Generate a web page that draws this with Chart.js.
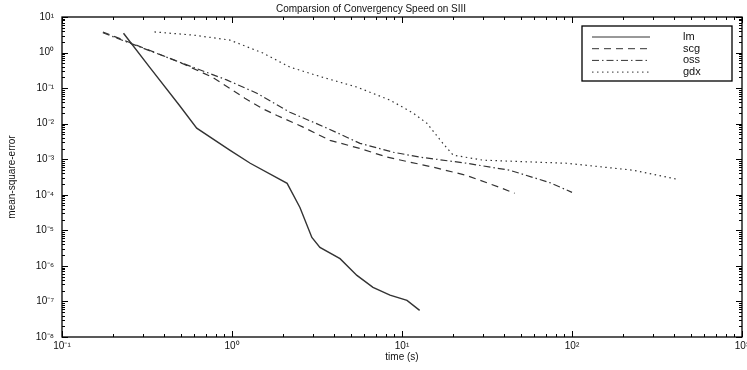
<!DOCTYPE html>
<html>
<head>
<meta charset="utf-8">
<script src="https://cdn.jsdelivr.net/npm/chart.js@4"></script>
<style>
  html, body { margin: 0; padding: 0; background: #fff; }
</style>
</head>
<body>
<canvas id="myChart" width="747" height="370"></canvas>
<script>
// значения (лог-лог)
let lmTime = [0.23, 0.33, 0.49, 0.62, 0.97, 1.28, 2.11, 2.51, 2.95, 3.29, 4.32, 5.43, 6.75, 8.5, 10.7, 12.7];
let lmMse = [3.5, 0.37, 0.033, 0.0075, 1.8e-3, 7.7e-4, 2.1e-4, 4.4e-5, 6.3e-6, 3.3e-6, 1.6e-6, 5.4e-7, 2.5e-7, 1.5e-7, 1.07e-7, 5.6e-8];

let scgTime = [0.174, 0.49, 0.77, 1.19, 1.5, 1.84, 2.62, 3.77, 5.66, 8.2, 15.2, 24, 37.7, 46];
let scgMse = [3.8, 0.54, 0.2, 0.052, 0.027, 0.017, 0.008, 3.4e-3, 2.0e-3, 1.14e-3, 6.0e-4, 3.5e-4, 1.6e-4, 1.1e-4];

let ossTime = [0.174, 0.49, 0.93, 1.4, 2.19, 3.62, 5.66, 8.9, 12.8, 24, 43, 74, 100];
let ossMse = [3.6, 0.54, 0.17, 0.072, 0.021, 7.5e-3, 2.8e-3, 1.57e-3, 1.14e-3, 7.7e-4, 4.9e-4, 2.2e-4, 1.17e-4];

let gdxTime = [0.35, 0.59, 0.97, 1.52, 2.19, 3.43, 5.43, 8.5, 11.6, 14, 17.4, 20, 30, 93, 230, 420];
let gdxMse = [3.8, 3.1, 2.25, 0.97, 0.39, 0.2, 0.107, 0.046, 0.02, 0.0103, 2.8e-3, 1.3e-3, 9.4e-4, 7.7e-4, 4.9e-4, 2.7e-4];

let xTicks = [0.1, 1, 10, 100, 1000];
let yTicks = [1e-8, 1e-7, 1e-6, 1e-5, 1e-4, 1e-3, 1e-2, 1e-1, 1, 10];

let names = ['lm', 'scg', 'oss', 'gdx'];
let dashes = [[], [7, 5], [7, 3, 1.5, 3], [1.5, 3.5]];

let sup = { '-': '⁻', '0': '⁰', '1': '¹', '2': '²', '3': '³', '4': '⁴', '5': '⁵', '6': '⁶', '7': '⁷', '8': '⁸', '9': '⁹' };
let powLabel = (v) => {
    let e = String(Math.round(Math.log10(v)));
    return '10' + e.split('').map(c => sup[c]).join('');
};

let toPoints = (xs, ys) => xs.map((x, i) => ({ x: x, y: ys[i] }));

let series = [
    toPoints(lmTime, lmMse),
    toPoints(scgTime, scgMse),
    toPoints(ossTime, ossMse),
    toPoints(gdxTime, gdxMse)
];

const FONT = 'Liberation Sans, Arial, Helvetica, sans-serif';
const INK = '#333';

// тики внутрь рамки со всех 4 сторон, как в матлабе
let insideTicks = {
    id: 'insideTicks',
    afterDatasetsDraw(chart) {
        let ctx = chart.ctx;
        let a = chart.chartArea;
        let xs = chart.scales.x, ys = chart.scales.y;
        ctx.save();
        ctx.strokeStyle = '#000';
        ctx.lineWidth = 1;
        ctx.beginPath();
        for (let k = -1; k <= 2; k++) {
            for (let m = 1; m <= 10; m++) {
                let v = m * Math.pow(10, k);
                if (m === 10 && k !== 2) continue;
                let px = Math.round(xs.getPixelForValue(v)) + 0.5;
                let len = (m === 1 || m === 10) ? 6 : 3;
                ctx.moveTo(px, a.bottom); ctx.lineTo(px, a.bottom - len);
                ctx.moveTo(px, a.top); ctx.lineTo(px, a.top + len);
            }
        }
        for (let k = -8; k <= 0; k++) {
            for (let m = 1; m <= 10; m++) {
                let v = m * Math.pow(10, k);
                if (m === 10 && k !== 0) continue;
                let py = Math.round(ys.getPixelForValue(v)) + 0.5;
                let len = (m === 1 || m === 10) ? 6 : 3;
                ctx.moveTo(a.left, py); ctx.lineTo(a.left + len, py);
                ctx.moveTo(a.right, py); ctx.lineTo(a.right - len, py);
            }
        }
        ctx.stroke();
        ctx.lineWidth = 1.3;
        ctx.strokeRect(a.left, a.top, a.right - a.left, a.bottom - a.top);
        ctx.restore();
    }
};

// легенда в рамке внутри графика
let boxLegend = {
    id: 'boxLegend',
    afterDraw(chart) {
        let ctx = chart.ctx;
        let a = chart.chartArea;
        let left = a.right - 160, top = a.top + 9, w = 150, h = 55;
        ctx.save();
        ctx.fillStyle = '#fff';
        ctx.fillRect(left, top, w, h);
        ctx.strokeStyle = '#000';
        ctx.lineWidth = 1.3;
        ctx.strokeRect(left, top, w, h);
        ctx.font = '11px ' + FONT;
        ctx.textBaseline = 'middle';
        chart.data.datasets.forEach((ds, i) => {
            let y = top + 11 + i * 11.7;
            ctx.strokeStyle = INK;
            ctx.lineWidth = 1;
            ctx.setLineDash(ds.borderDash || []);
            ctx.beginPath();
            ctx.moveTo(left + 10, y);
            ctx.lineTo(left + 68, y);
            ctx.stroke();
            ctx.setLineDash([]);
            ctx.fillStyle = '#111';
            ctx.fillText(ds.label, left + 101, y);
        });
        ctx.restore();
    }
};

let ctx = document.getElementById('myChart').getContext('2d');

let myChart = new Chart(ctx, {
    type: 'line',
    data: {
        datasets: series.map((pts, i) => ({
            label: names[i],
            data: pts,
            borderColor: INK,
            borderWidth: i === 0 ? 1.4 : 1.2,
            borderDash: dashes[i],
            pointRadius: 0,
            tension: 0,
            fill: false
        }))
    },
    options: {
        responsive: false,
        animation: false,
        layout: { padding: { left: 0, right: 5, top: 0, bottom: 0 } },
        plugins: {
            legend: { display: false },
            tooltip: { enabled: false },
            title: {
                display: true,
                text: 'Comparsion of Convergency Speed on SIII',
                color: '#111',
                font: { family: FONT, size: 10, weight: 'normal' },
                padding: { top: 3, bottom: 2 }
            }
        },
        scales: {
            x: {
                type: 'logarithmic',
                min: 0.1,
                max: 1000,
                afterBuildTicks: (scale) => { scale.ticks = xTicks.map(v => ({ value: v })); },
                afterFit: (scale) => {
                    scale.height = 33;
                    scale.paddingLeft = 0;
                    scale.paddingRight = 0;
                },
                grid: { display: false, drawTicks: false },
                border: { display: false },
                ticks: {
                    autoSkip: false,
                    maxRotation: 0,
                    padding: 3,
                    color: '#111',
                    font: { family: FONT, size: 10 },
                    callback: (v) => powLabel(v)
                },
                title: {
                    display: true,
                    text: 'time (s)',
                    color: '#111',
                    font: { family: FONT, size: 10 },
                    padding: { top: 0, bottom: 7 }
                }
            },
            y: {
                type: 'logarithmic',
                min: 1e-8,
                max: 10,
                afterBuildTicks: (scale) => { scale.ticks = yTicks.map(v => ({ value: v })); },
                afterFit: (scale) => {
                    scale.width = 62;
                    scale.paddingTop = 0;
                    scale.paddingBottom = 0;
                },
                grid: { display: false, drawTicks: false },
                border: { display: false },
                ticks: {
                    autoSkip: false,
                    padding: 8,
                    color: '#111',
                    font: { family: FONT, size: 10 },
                    callback: (v) => powLabel(v)
                },
                title: {
                    display: true,
                    text: 'mean-square-error',
                    color: '#111',
                    font: { family: FONT, size: 10 },
                    padding: { top: 6, bottom: 0 }
                }
            }
        }
    },
    plugins: [insideTicks, boxLegend]
});
</script>
</body>
</html>
